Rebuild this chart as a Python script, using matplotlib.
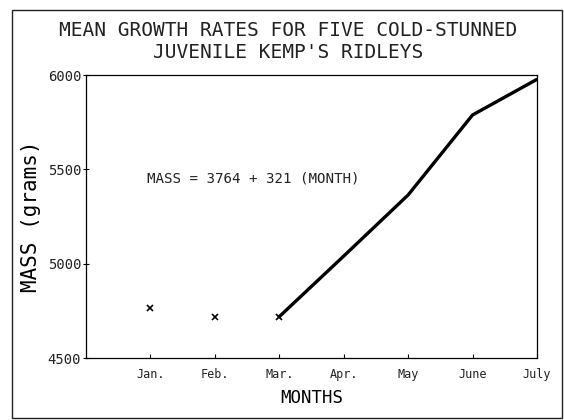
import numpy as np
import matplotlib
matplotlib.use("Agg")
import matplotlib.pyplot as plt
from matplotlib.patches import Rectangle

matplotlib.rcParams.update(
    {
        'font.family': "DejaVu Sans Mono",
        'figure.dpi': 100,
        'figure.facecolor': 'white',
        'axes.linewidth': 0.9,
        'text.color': '#222222',
        'xtick.labelcolor': '#222222',
        'ytick.labelcolor': '#222222',
    }
)

# mean mass (g) per month
months = ["Jan.", "Feb.", "Mar.", "Apr.", "May", "June", "July"]
month_num = [1, 2, 3, 4, 5, 6, 7]
mass_points = [4765, 4717, 4719]          # Jan-Mar, plotted as crosses
line_months = [3, 4, 5, 6, 7]
line_mass = [4719, 5040, 5364, 5788, 5977]

fig = plt.figure(figsize=(5.64, 4.2))
ax = fig.add_axes([0.1525, 0.1476, 0.7995, 0.6738])

ax.plot(month_num[:3], mass_points, linestyle="none", marker="x",
        markersize=4, markeredgewidth=1.2, color="black")
ax.plot(line_months, line_mass, color="black", linewidth=2.4,
        solid_capstyle="round", solid_joinstyle="round")

ax.set_xlim(0, 7)
ax.set_ylim(4500, 6000)
ax.set_xticks(month_num)
ax.set_xticklabels(months, fontsize=8.5)
ax.set_yticks([4500, 5000, 5500, 6000])
ax.tick_params(axis="y", labelsize=10, direction="inout", length=5, width=0.8, pad=1)
ax.tick_params(axis="x", direction="in", length=3, width=0.8, pad=7)

ax.set_xlabel("MONTHS", fontsize=12.5, labelpad=6)
ax.set_ylabel("MASS (grams)", fontsize=15, labelpad=5)

ax.text(0.95, 5454, "MASS = 3764 + 321 (MONTH)", fontsize=10.2,
        ha="left", va="center")

fig.text(0.511, 0.928, "MEAN GROWTH RATES FOR FIVE COLD-STUNNED",
         ha="center", va="center", fontsize=14)
fig.text(0.511, 0.876, "JUVENILE KEMP'S RIDLEYS",
         ha="center", va="center", fontsize=14)

# frame around the whole figure
fig.patches.append(Rectangle((0.021, 0.005), 0.975, 0.971,
                             transform=fig.transFigure, fill=False,
                             edgecolor="#222222", linewidth=1.0))

plt.savefig("out.png", dpi=100)
